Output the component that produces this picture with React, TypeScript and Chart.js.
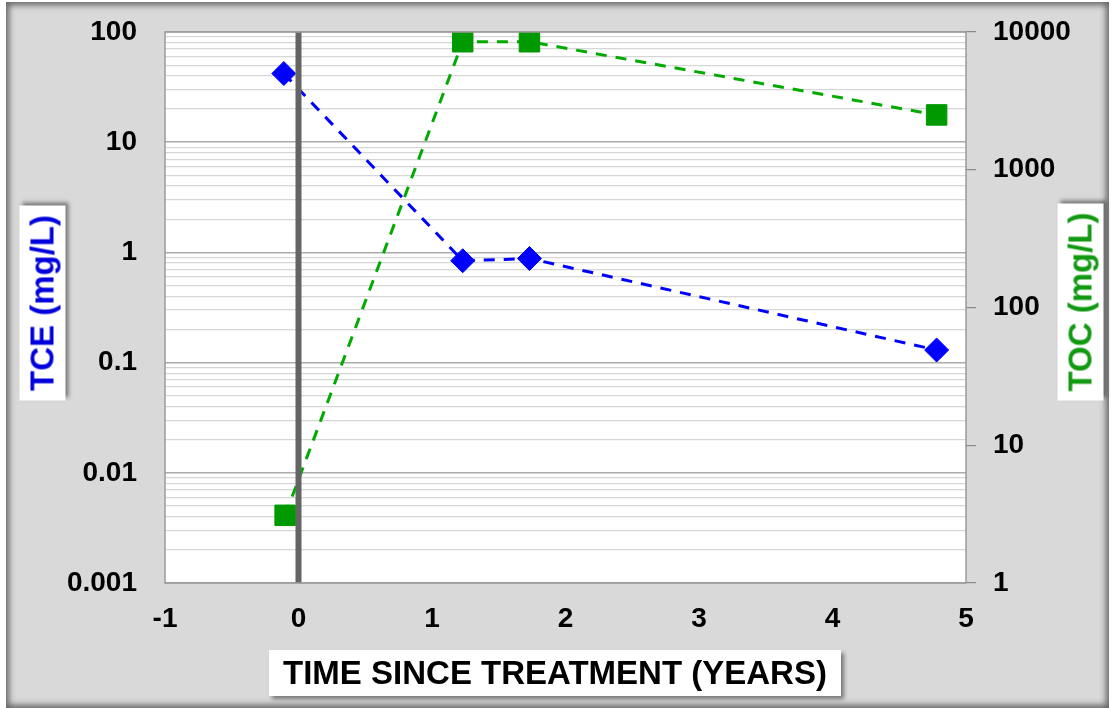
import React, { useEffect, useRef } from "react";
import { Chart, registerables } from "chart.js";

Chart.register(...registerables);

// ---- data ----
const TCE_YEARS = [-0.11, 1.23, 1.73, 4.78];
const TCE_MG_L = [42, 0.84, 0.88, 0.13];
const TOC_YEARS = [-0.1, 1.23, 1.73, 4.78];
const TOC_MG_L = [3.1, 8500, 8500, 2500];
const TREATMENT_YEAR = 0;

const X_TICKS = [-1, 0, 1, 2, 3, 4, 5];
const TCE_TICKS = [0.001, 0.01, 0.1, 1, 10, 100];
const TOC_TICKS = [1, 10, 100, 1000, 10000];
const TCE_TICK_LABELS = ["0.001", "0.01", "0.1", "1", "10", "100"];
const TOC_TICK_LABELS = ["1", "10", "100", "1000", "10000"];
const MINOR_STEPS = [2, 3, 4, 5, 6, 7, 8, 9];

const X_TITLE = "TIME SINCE TREATMENT (YEARS)";
const Y_TITLE = "TCE (mg/L)";
const Y1_TITLE = "TOC (mg/L)";

const FONT = "'Liberation Sans', Arial, Helvetica, sans-serif";
const BLUE = "#0000ff";
const GREEN = "#009900";

function withMinors(majors: number[]) {
  const out: { value: number; major: boolean }[] = [];
  majors.forEach((m, i) => {
    out.push({ value: m, major: true });
    if (i < majors.length - 1) MINOR_STEPS.forEach((s) => out.push({ value: m * s, major: false }));
  });
  return out;
}

function isMajor(v: number, majors: number[]) {
  return majors.some((m) => Math.abs(v - m) / m < 1e-6);
}

const framePlugin = {
  id: "frame",
  beforeDraw(chart: any) {
    const { ctx, chartArea: a } = chart;
    ctx.save();
    ctx.fillStyle = "#ffffff";
    ctx.fillRect(a.left, a.top, a.right - a.left, a.bottom - a.top);
    ctx.restore();
  },
  afterDraw(chart: any) {
    const { ctx, chartArea: a } = chart;
    ctx.save();
    ctx.strokeStyle = "#9a9a9a";
    ctx.lineWidth = 1.5;
    ctx.strokeRect(a.left, a.top, a.right - a.left, a.bottom - a.top);
    ctx.restore();
  },
};

export default function App() {
  const ref = useRef<HTMLCanvasElement | null>(null);

  useEffect(() => {
    if (!ref.current) return;
    const tickFont = { family: FONT, size: 28, weight: "bold" as const };
    const chart = new Chart(ref.current, {
      type: "line",
      data: {
        datasets: [
          {
            label: "Treatment",
            data: [
              { x: TREATMENT_YEAR, y: TCE_TICKS[0] },
              { x: TREATMENT_YEAR, y: TCE_TICKS[TCE_TICKS.length - 1] },
            ],
            yAxisID: "y",
            borderColor: "#646464",
            borderWidth: 6,
            pointRadius: 0,
            order: 0,
          },
          {
            label: "TCE",
            data: TCE_YEARS.map((x, i) => ({ x, y: TCE_MG_L[i] })),
            yAxisID: "y",
            borderColor: BLUE,
            borderWidth: 3,
            borderDash: [11, 9],
            pointStyle: "rectRot",
            pointRadius: 12,
            pointBackgroundColor: BLUE,
            pointBorderColor: BLUE,
            pointBorderWidth: 1,
            order: 2,
          },
          {
            label: "TOC",
            data: TOC_YEARS.map((x, i) => ({ x, y: TOC_MG_L[i] })),
            yAxisID: "y1",
            borderColor: "#00aa00",
            borderWidth: 3,
            borderDash: [11, 9],
            pointStyle: "rect",
            pointRadius: 14.5,
            pointBackgroundColor: GREEN,
            pointBorderColor: GREEN,
            pointBorderWidth: 1,
            order: 1,
          },
        ],
      },
      options: {
        animation: false,
        responsive: false,
        maintainAspectRatio: false,
        layout: { padding: { top: 32, left: 0, right: 0, bottom: 0 } },
        plugins: { legend: { display: false }, tooltip: { enabled: false } },
        scales: {
          x: {
            type: "linear",
            min: X_TICKS[0],
            max: X_TICKS[X_TICKS.length - 1],
            afterBuildTicks: (s: any) => {
              s.ticks = X_TICKS.map((v) => ({ value: v }));
            },
            afterFit: (s: any) => {
              s.height = 125;
              s.paddingLeft = 0;
              s.paddingRight = 0;
            },
            ticks: {
              font: tickFont,
              color: "#000",
              padding: 19,
              maxRotation: 0,
              autoSkip: false,
              callback: (v: any) => String(v),
            },
            grid: { drawOnChartArea: false, drawTicks: false },
            border: { display: false },
          },
          y: {
            type: "logarithmic",
            position: "left",
            min: TCE_TICKS[0],
            max: TCE_TICKS[TCE_TICKS.length - 1],
            afterBuildTicks: (s: any) => {
              s.ticks = withMinors(TCE_TICKS);
            },
            afterFit: (s: any) => {
              s.width = 165;
              s.paddingTop = 0;
              s.paddingBottom = 0;
            },
            ticks: {
              font: tickFont,
              color: "#000",
              padding: 28,
              autoSkip: false,
              callback: (v: any) => {
                const i = TCE_TICKS.findIndex((m) => Math.abs(v - m) / m < 1e-6);
                return i >= 0 ? TCE_TICK_LABELS[i] : "";
              },
            },
            grid: {
              drawTicks: false,
              color: (c: any) => (c.tick && isMajor(c.tick.value, TCE_TICKS) ? "#ababab" : "#d6d6d6"),
              lineWidth: (c: any) => (c.tick && isMajor(c.tick.value, TCE_TICKS) ? 1.5 : 1.2),
            },
            border: { display: false },
          },
          y1: {
            type: "logarithmic",
            position: "right",
            min: TOC_TICKS[0],
            max: TOC_TICKS[TOC_TICKS.length - 1],
            afterBuildTicks: (s: any) => {
              s.ticks = withMinors(TOC_TICKS);
            },
            afterFit: (s: any) => {
              s.width = 145;
              s.paddingTop = 0;
              s.paddingBottom = 0;
            },
            ticks: {
              font: tickFont,
              color: "#000",
              padding: 17,
              autoSkip: false,
              callback: (v: any) => {
                const i = TOC_TICKS.findIndex((m) => Math.abs(v - m) / m < 1e-6);
                return i >= 0 ? TOC_TICK_LABELS[i] : "";
              },
            },
            grid: {
              drawOnChartArea: false,
              drawTicks: true,
              tickLength: 10,
              color: (c: any) => (c.tick && isMajor(c.tick.value, TOC_TICKS) ? "#8a8a8a" : "rgba(0,0,0,0)"),
              lineWidth: 1.2,
            },
            border: { display: false },
          },
        },
      },
      plugins: [framePlugin],
    } as any);
    return () => chart.destroy();
  }, []);

  const boxShadow = "3px 3px 4px rgba(0,0,0,0.45)";
  const titleFont: React.CSSProperties = {
    fontFamily: FONT,
    fontWeight: "bold",
    fontSize: 33,
    lineHeight: "46px",
    textAlign: "center",
    whiteSpace: "nowrap",
    background: "#ffffff",
    boxShadow,
    position: "absolute",
  };

  return (
    <div style={{ position: "absolute", left: 0, top: 0, width: 1111, height: 708, background: "#ffffff", overflow: "hidden" }}>
      <div
        style={{
          position: "absolute",
          left: 6,
          top: 2,
          width: 1103,
          height: 706,
          background: "#d9d9d9",
          boxShadow: "inset 0 0 6px 3px rgba(60,60,60,0.75)",
        }}
      />
      <canvas ref={ref} width={1111} height={708} style={{ position: "absolute", left: 0, top: 0, width: 1111, height: 708 }} />
      <div style={{ ...titleFont, left: 269, top: 650, width: 572, height: 46, color: "#000" }}>{X_TITLE}</div>
      <div
        style={{
          ...titleFont,
          left: 42 - 97.5,
          top: 302.5 - 23,
          width: 195,
          height: 46,
          color: "#0000dd",
          transform: "rotate(-90deg)",
        }}
      >
        {Y_TITLE}
      </div>
      <div
        style={{
          ...titleFont,
          left: 1080 - 98.5,
          top: 301.5 - 23,
          width: 197,
          height: 46,
          color: "#119911",
          transform: "rotate(-90deg)",
        }}
      >
        {Y1_TITLE}
      </div>
    </div>
  );
}
